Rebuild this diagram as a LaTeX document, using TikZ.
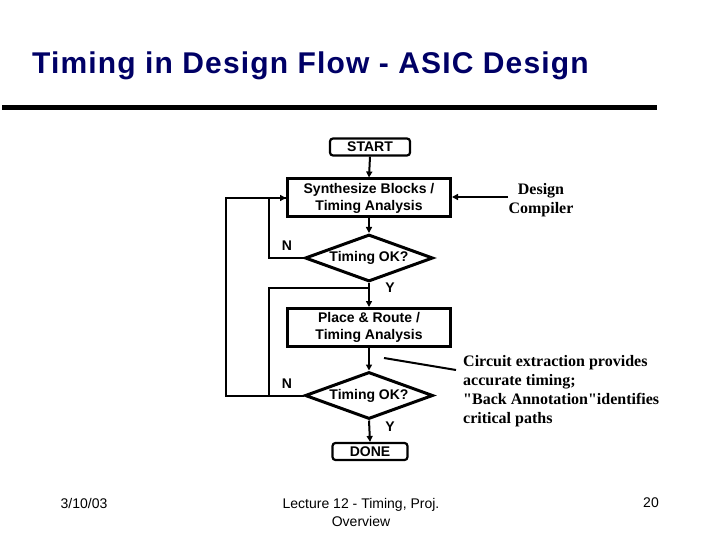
\documentclass[tikz,border=0pt]{standalone}
\usepackage{fontspec}
\setmainfont{Liberation Sans}
\newfontfamily\serifbold{Liberation Serif}
\newfontfamily\titlefont[LetterSpace=3.8]{Liberation Sans}
\usetikzlibrary{arrows.meta,shapes.geometric}
\definecolor{titleblue}{RGB}{0,0,102}
\tikzset{
  flowbox/.style={draw,line width=3pt,minimum width=163pt,minimum height=38pt,inner sep=0pt,align=center,font=\fontsize{14}{17}\selectfont\bfseries},
  termbox/.style={draw,line width=2.2pt,rounded corners=3pt,minimum height=17pt,inner sep=0pt,align=center,font=\fontsize{14}{17}\selectfont\bfseries},
  decision/.style={draw,line width=3pt,shape=diamond,aspect=2.7,minimum width=128pt,minimum height=47pt,inner sep=0pt,font=\fontsize{14}{17}\selectfont\bfseries},
  conn/.style={line width=2pt},
  arr/.style={conn,-{Triangle[length=6pt,width=6pt]}},
  lbl/.style={font=\fontsize{14}{17}\selectfont\bfseries,inner sep=0pt},
  note/.style={font=\fontsize{16}{19}\selectfont\serifbold\bfseries,inner sep=0pt,align=left},
  foot/.style={font=\fontsize{14}{18}\selectfont,inner sep=0pt,align=center}
}
\begin{document}
\begin{tikzpicture}[x=1pt,y=-1pt]
\useasboundingbox[fill=white] (0,0) rectangle (720,540);
% title
\node[anchor=base west,inner sep=0pt,text=titleblue,font=\fontsize{30}{34}\selectfont\titlefont\bfseries] (title) at (32,74) {Timing in Design Flow - ASIC Design};
\fill (2,105.5) rectangle (657,110.5);
% flow nodes
\node[termbox,minimum width=80pt] (start) at (370,147) {START};
\node[flowbox] (synth) at (369,198) {Synthesize Blocks /\\Timing Analysis};
\node[decision] (d1) at (369,258) {Timing OK?};
\node[flowbox] (place) at (369,327.5) {Place \& Route /\\Timing Analysis};
\node[decision] (d2) at (369,395.5) {Timing OK?};
\node[termbox,minimum width=75pt] (done) at (370,451.5) {DONE};
% connectors
\draw[arr] (start.south) -- (synth.north);
\draw[arr] (synth.south) -- (d1.north);
\draw[arr] (d1.south) -- (place.north);
\draw[arr] (place.south) -- (d2.north);
\draw[arr] (d2.south) -- (done.north);
\draw[arr] (d1.west) -- ++(-35,0) coordinate (n1) |- (synth.west);
\draw[conn] (d2.west) -- ++(-78,0) coordinate (n2) |- (synth.west);
\coordinate (j2) at (369,288);
\draw[conn] (d2.west) -- ++(-35,0) coordinate (n3) |- (j2);
% labels
\node[lbl] (N1) at (287,246) {N};
\node[lbl] (Y1) at (390,288) {Y};
\node[lbl] (N2) at (287,384) {N};
\node[lbl] (Y2) at (390,427) {Y};
% side notes
\node[note,align=center] (dc) at (541,200) {Design\\Compiler};
\coordinate (dcs) at (508,197);
\draw[arr] (dcs) -- (synth.east |- dcs);
\node[note,anchor=north west] (ce) at (463,355) {Circuit extraction provides\\accurate timing;\\"Back Annotation"identifies\\critical paths};
\coordinate (cl1) at (384,358);
\coordinate (cl2) at (456,370);
\draw[conn] (cl1) -- (cl2);
% footer
\node[foot] (date) at (84,503) {3/10/03};
\node[foot] (lec) at (361,512) {Lecture 12 - Timing, Proj.\\Overview};
\node[foot] (pg) at (651,503) {20};
\end{tikzpicture}
\end{document}
